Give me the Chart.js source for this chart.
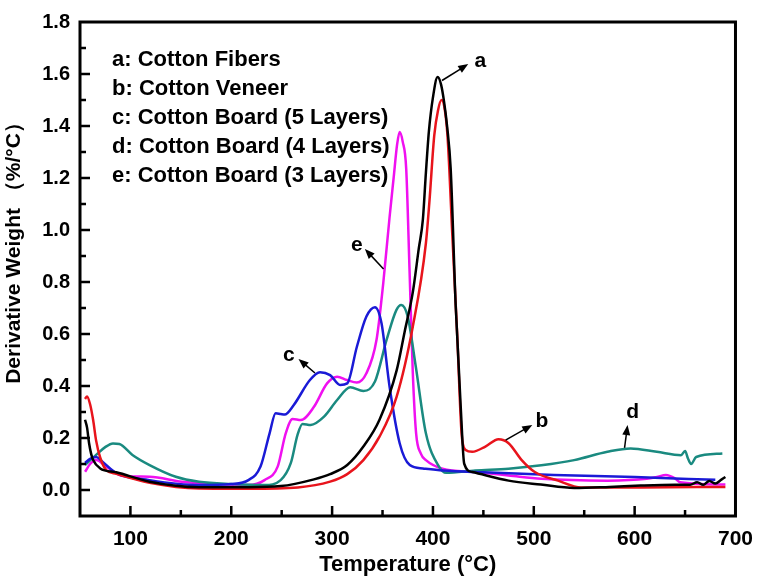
<!DOCTYPE html>
<html>
<head>
<meta charset="utf-8">
<script src="https://cdn.jsdelivr.net/npm/chart.js@4.4.1/dist/chart.umd.min.js"></script>
<style>
  body { margin: 0; background: #fff; }
  canvas { display: block; }
</style>
</head>
<body>
<canvas id="dtgChart" width="764" height="578"></canvas>
<script>
// DTG curves - derivative weight vs temperature

// a: Cotton Fibers
const fibersTemp = [55, 57, 59, 61, 63, 70, 86, 119, 168, 217, 249, 282, 298, 315, 331, 347, 364, 372, 380, 386, 390, 393, 396, 400, 404.6, 408, 411, 414, 417.6, 422.5, 427.5, 431, 439, 475, 507, 540, 575, 606, 640, 655, 662, 668, 674, 680, 686, 690];
const fibersVal = [0.27, 0.24, 0.18, 0.14, 0.115, 0.083, 0.068, 0.032, 0.011, 0.011, 0.015, 0.041, 0.061, 0.096, 0.167, 0.27, 0.46, 0.61, 0.76, 0.93, 1.04, 1.22, 1.38, 1.51, 1.588, 1.56, 1.494, 1.40, 1.234, 0.713, 0.323, 0.101, 0.069, 0.036, 0.021, 0.008, 0.012, 0.017, 0.02, 0.02, 0.03, 0.02, 0.035, 0.025, 0.04, 0.05];

// b: Cotton Veneer
const veneerTemp = [55, 57, 60, 63, 66, 70, 76, 86, 119, 168, 217, 266, 298, 315, 331, 347, 364, 380, 393, 396.4, 401.3, 405, 408.5, 411, 414.4, 419.3, 424.2, 428.4, 432.4, 439, 452, 465, 475, 488, 501, 524, 547, 606, 690];
const veneerVal = [0.35, 0.36, 0.33, 0.27, 0.19, 0.125, 0.077, 0.062, 0.028, 0.006, 0.005, 0.01, 0.032, 0.061, 0.115, 0.205, 0.359, 0.628, 0.949, 1.104, 1.364, 1.46, 1.50, 1.48, 1.364, 0.973, 0.583, 0.218, 0.154, 0.147, 0.167, 0.195, 0.18, 0.115, 0.069, 0.036, 0.01, 0.01, 0.012];

// c: Cotton Board (5 Layers)
const board5Temp = [55, 60, 66, 72, 86, 119, 168, 200, 217, 229, 238, 244, 249, 253, 262, 278, 288, 298, 308, 315, 324.5, 334, 342.5, 349, 357, 367, 377, 390, 410, 450, 520, 600, 680];
const board5Val = [0.104, 0.12, 0.127, 0.11, 0.065, 0.038, 0.019, 0.023, 0.038, 0.09, 0.218, 0.295, 0.292, 0.29, 0.327, 0.423, 0.453, 0.442, 0.404, 0.41, 0.55, 0.667, 0.703, 0.641, 0.397, 0.18, 0.096, 0.083, 0.075, 0.068, 0.058, 0.05, 0.039];

// d: Cotton Board (4 Layers)
const board4Temp = [55, 66, 75, 82.7, 89, 102, 119, 145, 168, 200, 233, 249, 259, 265.7, 270.6, 278.8, 292, 305, 318, 331, 342.5, 354, 363.7, 368.6, 375, 383, 393, 406, 413, 442, 475, 507.5, 540, 573, 596, 622, 646, 650, 653, 656, 661, 687];
const board4Val = [0.096, 0.135, 0.165, 0.179, 0.177, 0.135, 0.096, 0.051, 0.032, 0.023, 0.019, 0.038, 0.103, 0.212, 0.254, 0.25, 0.282, 0.346, 0.395, 0.381, 0.417, 0.577, 0.692, 0.712, 0.667, 0.474, 0.218, 0.09, 0.066, 0.075, 0.082, 0.095, 0.115, 0.147, 0.16, 0.147, 0.134, 0.15, 0.12, 0.10, 0.127, 0.14];

// e: Cotton Board (3 Layers)
const board3Temp = [55, 60, 66, 76, 92.5, 119, 151, 184, 217, 233, 246, 254, 260.8, 269, 282, 295, 305, 314.7, 324.5, 334, 344, 350.7, 357, 361, 364.5, 367, 370, 373.5, 376.8, 380, 383.3, 388, 393, 409.5, 442, 475, 507.5, 573, 612, 622, 631, 640, 645, 690];
const board3Val = [0.07, 0.1, 0.115, 0.09, 0.054, 0.051, 0.032, 0.023, 0.019, 0.038, 0.09, 0.218, 0.273, 0.269, 0.32, 0.41, 0.436, 0.423, 0.413, 0.449, 0.577, 0.795, 1.05, 1.2, 1.33, 1.377, 1.34, 1.234, 0.843, 0.453, 0.218, 0.14, 0.115, 0.082, 0.069, 0.056, 0.043, 0.036, 0.043, 0.05, 0.058, 0.045, 0.03, 0.021];

const legendLabels = ['a: Cotton Fibers', 'b: Cotton Veneer', 'c: Cotton Board (5 Layers)', 'd: Cotton Board (4 Layers)', 'e: Cotton Board (3 Layers)'];

// arrow annotations: [label, fromT, fromV, toT, toV, labelT, labelV]
const arrowNotes = [
    ['a', 409, 1.575, 435, 1.638, 447, 1.65],
    ['b', 472, 0.192, 498.5, 0.25, 508, 0.265],
    ['c', 283, 0.45, 266.7, 0.504, 257, 0.52],
    ['d', 590, 0.162, 593, 0.25, 598, 0.30],
    ['e', 351, 0.85, 332.5, 0.927, 324.5, 0.94]
];

const FONT = '"Liberation Sans", Arial, sans-serif';

function toPoints(xs, ys) {
    return xs.map((x, i) => ({ x: x, y: ys[i] }));
}

function makeSet(label, xs, ys, color) {
    return {
        label: label,
        data: toPoints(xs, ys),
        borderColor: color,
        borderWidth: 2.5,
        pointRadius: 0,
        fill: false,
        cubicInterpolationMode: 'monotone'
    };
}

// frame, inward ticks, legend text and arrows
const decorPlugin = {
    id: 'decor',
    afterDraw(chart) {
        const ctx = chart.ctx;
        const area = chart.chartArea;
        const xs = chart.scales.x;
        const ys = chart.scales.y;
        ctx.save();
        ctx.strokeStyle = '#000';
        ctx.fillStyle = '#000';

        // ticks
        ctx.lineWidth = 2.5;
        ctx.beginPath();
        for (let t = 100; t < 700; t += 50) {
            const px = xs.getPixelForValue(t);
            const len = t % 100 === 0 ? 10 : 6;
            ctx.moveTo(px, area.bottom);
            ctx.lineTo(px, area.bottom - len);
        }
        for (let k = 0; k < 18; k++) {
            const v = k / 10;
            const py = ys.getPixelForValue(v);
            const len = k % 2 === 0 ? 10 : 6;
            ctx.moveTo(area.left, py);
            ctx.lineTo(area.left + len, py);
        }
        ctx.stroke();

        // frame
        ctx.lineWidth = 3;
        ctx.strokeRect(area.left, area.top, area.right - area.left, area.bottom - area.top);

        // legend text
        ctx.font = 'bold 22px ' + FONT;
        ctx.textAlign = 'left';
        ctx.textBaseline = 'middle';
        legendLabels.forEach((txt, i) => {
            ctx.fillText(txt, 112, 60 + i * 29);
        });

        // arrows
        ctx.lineWidth = 1.5;
        arrowNotes.forEach(n => {
            const x1 = xs.getPixelForValue(n[1]), y1 = ys.getPixelForValue(n[2]);
            const x2 = xs.getPixelForValue(n[3]), y2 = ys.getPixelForValue(n[4]);
            const ang = Math.atan2(y2 - y1, x2 - x1);
            ctx.beginPath();
            ctx.moveTo(x1, y1);
            ctx.lineTo(x2 - 6 * Math.cos(ang), y2 - 6 * Math.sin(ang));
            ctx.stroke();
            ctx.beginPath();
            ctx.moveTo(x2, y2);
            ctx.lineTo(x2 - 10 * Math.cos(ang) + 4 * Math.sin(ang), y2 - 10 * Math.sin(ang) - 4 * Math.cos(ang));
            ctx.lineTo(x2 - 10 * Math.cos(ang) - 4 * Math.sin(ang), y2 - 10 * Math.sin(ang) + 4 * Math.cos(ang));
            ctx.closePath();
            ctx.fill();
            ctx.font = 'bold 21px ' + FONT;
            ctx.textAlign = 'center';
            ctx.fillText(n[0], xs.getPixelForValue(n[5]), ys.getPixelForValue(n[6]));
        });

        // y axis title
        ctx.translate(14, 248);
        ctx.rotate(-Math.PI / 2);
        ctx.font = 'bold 21px ' + FONT;
        ctx.textAlign = 'center';
        ctx.fillText('Derivative Weight （%/°C）', 0, 0);
        ctx.restore();
    }
};

const ctx = document.getElementById('dtgChart');
new Chart(ctx, {
    type: 'line',
    data: {
        datasets: [
            makeSet(legendLabels[0], fibersTemp, fibersVal, '#000000'),
            makeSet(legendLabels[1], veneerTemp, veneerVal, '#e8141c'),
            makeSet(legendLabels[2], board5Temp, board5Val, '#1a1ad6'),
            makeSet(legendLabels[3], board4Temp, board4Val, '#1a8a80'),
            makeSet(legendLabels[4], board3Temp, board3Val, '#f010f0')
        ]
    },
    options: {
        responsive: false,
        animation: false,
        layout: { padding: { top: 22, right: 20, left: 0, bottom: 0 } },
        plugins: {
            legend: { display: false },
            tooltip: { enabled: false }
        },
        scales: {
            x: {
                type: 'linear',
                min: 50,
                max: 700,
                afterFit: s => { s.height = 62; },
                grid: { display: false, drawTicks: false },
                border: { display: false },
                ticks: {
                    stepSize: 50,
                    autoSkip: false,
                    maxRotation: 0,
                    padding: 11,
                    color: '#000',
                    font: { family: FONT, size: 21, weight: 'bold' },
                    callback: v => (v % 100 === 0 ? v : '')
                },
                title: {
                    display: true,
                    text: 'Temperature (°C)',
                    color: '#000',
                    padding: { top: 0, bottom: 0 },
                    font: { family: FONT, size: 22, weight: 'bold' }
                }
            },
            y: {
                min: -0.1,
                max: 1.8,
                afterFit: s => { s.width = 80; },
                grid: { display: false, drawTicks: false },
                border: { display: false },
                ticks: {
                    stepSize: 0.1,
                    autoSkip: false,
                    padding: 10,
                    color: '#000',
                    font: { family: FONT, size: 20, weight: 'bold' },
                    callback: v => {
                        const k = Math.round(v * 10);
                        return (k >= 0 && k % 2 === 0) ? (k / 10).toFixed(1) : '';
                    }
                }
            }
        }
    },
    plugins: [decorPlugin]
});
</script>
</body>
</html>
